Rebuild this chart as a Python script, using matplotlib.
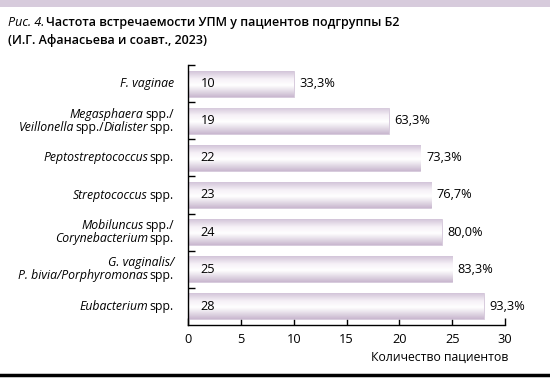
import numpy as np
import matplotlib
matplotlib.use("Agg")
import matplotlib.pyplot as plt
from matplotlib.colors import LinearSegmentedColormap

plt.rcParams['font.family'] = ['Open Sans', 'DejaVu Sans']

# data (top to bottom as in the picture); each label: lines of (text, italic?) pieces
labels = [
    [[("F. vaginae", True)]],
    [[("Megasphaera", True), (" spp./", False)],
     [("Veillonella", True), (" spp./", False), ("Dialister", True), (" spp.", False)]],
    [[("Peptostreptococcus", True), (" spp.", False)]],
    [[("Streptococcus", True), (" spp.", False)]],
    [[("Mobiluncus", True), (" spp./", False)],
     [("Corynebacterium", True), (" spp.", False)]],
    [[("G. vaginalis/", True)],
     [("P. bivia/Porphyromonas", True), (" spp.", False)]],
    [[("Eubacterium", True), (" spp.", False)]],
]
counts = [10, 19, 22, 23, 24, 25, 28]
percents = ["33,3%", "63,3%", "73,3%", "76,7%", "80,0%", "83,3%", "93,3%"]
xticks = [0, 5, 10, 15, 20, 25, 30]

W, H = 550, 382
fig = plt.figure(figsize=(5.5, 3.82), dpi=100)
ax = fig.add_axes([188/W, 1-325/H, (505-188)/W, (325-65)/H])
renderer = fig.canvas.get_renderer()


def put_line(pieces, x_px, y_px, ha, size, weights=None):
    # draw one line made of differently styled pieces, baseline at y_px
    arts = []
    total = 0
    for i, (txt, it) in enumerate(pieces):
        wt = weights[i] if weights else 'normal'
        gap = 0
        if txt.startswith(" "):
            a = fig.text(0, 0, "a a", fontsize=size, weight=wt)
            b = fig.text(0, 0, "aa", fontsize=size, weight=wt)
            gap = 0.6 * (a.get_window_extent(renderer).width - b.get_window_extent(renderer).width)
            a.remove(); b.remove()
            txt = txt.lstrip()
        elif i > 0 and it:
            gap = -1.0   # italic piece glued right after a slash
        t = fig.text(0, 0, txt, fontsize=size, style='italic' if it else 'normal', weight=wt, va='baseline', ha='left')
        w = t.get_window_extent(renderer).width
        arts.append((t, gap, w))
        total += gap + w
    x = x_px - total if ha == 'right' else x_px
    for t, gap, w in arts:
        x += gap
        t.set_position((x / W, 1 - y_px / H))
        x += w


ypos = np.arange(len(counts))[::-1]
bars = ax.barh(ypos, counts, height=0.7, color='#e6dcea', edgecolor='#cdbfd3', linewidth=0.5, zorder=2)

# vertical gradient inside each bar
grad = LinearSegmentedColormap.from_list('g', [(0, '#d3c5d9'), (0.3, '#f6f1f7'), (0.55, '#ffffff'), (1, '#c9b8cf')])
col = np.linspace(0, 1, 64).reshape(-1, 1)
for b in bars:
    x0, y0, w, h = b.get_x(), b.get_y(), b.get_width(), b.get_height()
    im = ax.imshow(col, cmap=grad, aspect='auto', extent=(x0, x0 + w, y0, y0 + h), origin='upper', zorder=2.5)
    im.set_clip_path(b)

for y, c, p in zip(ypos, counts, percents):
    ax.annotate(str(c), (0, y), xytext=(9, 0), textcoords='offset points', va='center', ha='left', fontsize=9.2, zorder=3)
    ax.annotate(p, (c, y), xytext=(4, 0), textcoords='offset points', va='center', ha='left', fontsize=9.2, zorder=3)

ax.set_xlim(0, 30)
ax.set_ylim(-0.5, 6.5)
ax.set_xticks(xticks)
ax.set_yticks(np.arange(0.5, 7, 1))
ax.set_yticklabels([])
ax.tick_params(axis='y', direction='in', length=5, width=1)
ax.tick_params(axis='x', direction='in', length=5, width=1, labelsize=9.2, pad=6)
ax.spines['top'].set_visible(False)
ax.spines['right'].set_visible(False)
for s in ['left', 'bottom']:
    ax.spines[s].set_linewidth(1)

# category labels, right aligned left of the axis
fig.canvas.draw()
for y, lab in zip(ypos, labels):
    cy = H - ax.transData.transform((0, y))[1]
    n = len(lab)
    for k, line in enumerate(lab):
        base = cy + 3.5 + (k - (n - 1) / 2) * 13
        put_line(line, 174, base, 'right', 8.8)

fig.text(508/W, 1-357/H, "Количество пациентов", ha='right', va='center', fontsize=8.8)

# title
put_line([("Рис. 4.", True), (" Частота встречаемости УПМ у пациентов подгруппы Б2", False)],
         8, 26, 'left', 9.0, weights=['normal', 'semibold'])
put_line([("(И.Г. Афанасьева и соавт., 2023)", False)], 8, 44, 'left', 9.0, weights=['semibold'])

# decorative band and rule
fig.add_artist(plt.Rectangle((0, 1-7/H), 1, 7/H, transform=fig.transFigure, color='#d7cbdc', lw=0))
fig.add_artist(plt.Line2D([0, 1], [1-375/H, 1-375/H], transform=fig.transFigure, color='black', lw=2.5))

fig.savefig("out.png", dpi=100)
